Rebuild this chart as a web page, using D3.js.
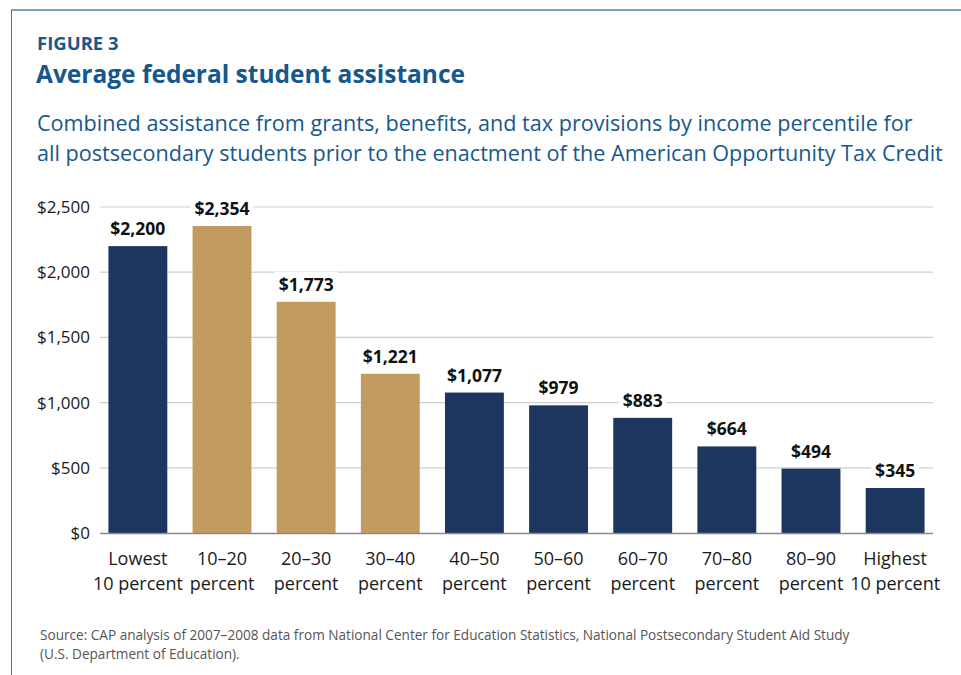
<!DOCTYPE html>
<html>
<head>
<meta charset="utf-8">
<script src="https://cdn.jsdelivr.net/npm/d3@7"></script>
<style>
  html, body { margin: 0; padding: 0; background: #fff; }
  svg { display: block; font-family: "Open Sans", "Noto Sans", sans-serif; }
</style>
</head>
<body>
<svg id="chart" width="961" height="675"></svg>
<script>
// Income percentile groups and average combined assistance (dollars)
const categories = [
  ["Lowest", "10 percent"],
  ["10\u201320", "percent"],
  ["20\u201330", "percent"],
  ["30\u201340", "percent"],
  ["40\u201350", "percent"],
  ["50\u201360", "percent"],
  ["60\u201370", "percent"],
  ["70\u201380", "percent"],
  ["80\u201390", "percent"],
  ["Highest", "10 percent"]
];
const values = [2200, 2354, 1773, 1221, 1077, 979, 883, 664, 494, 345];
// Groups that are highlighted in gold
const highlighted = [false, true, true, true, false, false, false, false, false, false];
const yTicks = [0, 500, 1000, 1500, 2000, 2500];

const NAVY = "#1d3660";
const GOLD = "#c39a5f";
const BLUE_TEXT = "#17588c";

const svg = d3.select("#chart");

// Frame lines (top and left)
svg.append("line").attr("x1", 11).attr("x2", 961).attr("y1", 10).attr("y2", 10)
  .attr("stroke", "#7ea2bf").attr("stroke-width", 2);
svg.append("line").attr("x1", 11.5).attr("x2", 11.5).attr("y1", 10).attr("y2", 675)
  .attr("stroke", "#3e78a8").attr("stroke-width", 1);

// Headings
svg.append("text").attr("x", 37).attr("y", 50)
  .attr("fill", BLUE_TEXT).attr("font-weight", 700).attr("font-size", 18.5)
  .text("FIGURE 3");
svg.append("text").attr("x", 36).attr("y", 83)
  .attr("fill", BLUE_TEXT).attr("font-weight", 700).attr("font-size", 24.5)
  .text("Average federal student assistance");
const subtitle = [
  "Combined assistance from grants, benefits, and tax provisions by income percentile for",
  "all postsecondary students prior to the enactment of the American Opportunity Tax Credit"
];
svg.append("g").selectAll("text").data(subtitle).join("text")
  .attr("x", 37).attr("y", (d, i) => 131 + i * 30)
  .attr("fill", BLUE_TEXT).attr("font-size", 21.6)
  .text(d => d);

// Scales
const x = d3.scaleBand()
  .domain(d3.range(categories.length))
  .range([100, 933])
  .paddingInner(0.3)
  .paddingOuter(0.1);
const y = d3.scaleLinear().domain([0, 2500]).range([533, 207]);

// Gridlines
svg.append("g").selectAll("line").data(yTicks.filter(t => t > 0)).join("line")
  .attr("x1", 100).attr("x2", 933)
  .attr("y1", d => y(d)).attr("y2", d => y(d))
  .attr("stroke", "#cfcfcf").attr("stroke-width", 1.2);

// Y axis labels
const yAxis = d3.axisLeft(y).tickValues(yTicks)
  .tickFormat(d => "$" + d3.format(",")(d)).tickSize(0).tickPadding(0);
const yg = svg.append("g").attr("transform", "translate(90,0)").call(yAxis);
yg.select(".domain").remove();
yg.selectAll("text").attr("font-size", 17).attr("fill", "#1a1a1a")
  .attr("font-family", "'Open Sans', 'Noto Sans', sans-serif");

// Bars
svg.append("g").selectAll("rect").data(values).join("rect")
  .attr("x", (d, i) => x(i))
  .attr("width", x.bandwidth())
  .attr("y", d => y(d))
  .attr("height", d => y(0) - y(d))
  .attr("fill", (d, i) => highlighted[i] ? GOLD : NAVY);

// Baseline
svg.append("line").attr("x1", 100).attr("x2", 933)
  .attr("y1", y(0) + 0.5).attr("y2", y(0) + 0.5)
  .attr("stroke", "#8a8a8a").attr("stroke-width", 1.5);

// Value labels with white backing that breaks the gridlines
const labels = svg.append("g").selectAll("g").data(values).join("g")
  .attr("transform", (d, i) => `translate(${x(i) + x.bandwidth() / 2},${y(d) - 11})`);
labels.append("text")
  .attr("text-anchor", "middle")
  .attr("font-weight", 700).attr("font-size", 17.5).attr("fill", "#111")
  .text(d => "$" + d3.format(",")(d));
labels.each(function () {
  const g = d3.select(this);
  const bb = g.select("text").node().getBBox();
  g.insert("rect", "text")
    .attr("x", bb.x - 4).attr("y", bb.y)
    .attr("width", bb.width + 8).attr("height", bb.height)
    .attr("fill", "#fff");
});

// Category labels
const xl = svg.append("g").selectAll("text").data(categories).join("text")
  .attr("text-anchor", "middle")
  .attr("font-size", 18).attr("fill", "#1a1a1a")
  .attr("transform", (d, i) => `translate(${x(i) + x.bandwidth() / 2},0)`);
xl.selectAll("tspan").data(d => d).join("tspan")
  .attr("x", 0).attr("y", (d, j) => 565 + j * 25)
  .text(d => d);

// Source note
const source = [
  "Source: CAP analysis of 2007\u20132008 data from National Center for Education Statistics, National Postsecondary Student Aid Study",
  "(U.S. Department of Education)."
];
svg.append("g").selectAll("text").data(source).join("text")
  .attr("x", 40).attr("y", (d, i) => 640 + i * 19)
  .attr("fill", "#555").attr("font-size", 13.6)
  .text(d => d);
</script>
</body>
</html>
